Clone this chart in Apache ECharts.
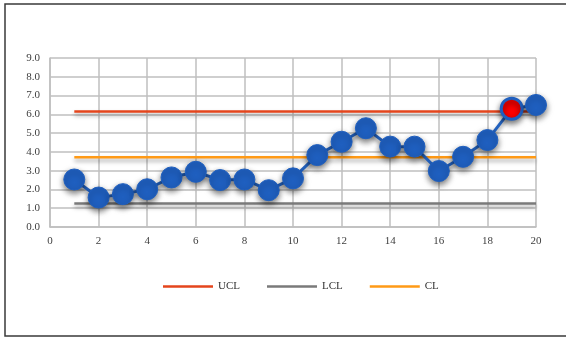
<!DOCTYPE html>
<html>
<head>
<meta charset="utf-8">
<script src="https://cdn.jsdelivr.net/npm/echarts@6/dist/echarts.min.js"></script>
<style>html,body{margin:0;padding:0;background:#fff}#c{width:566px;height:338px}</style>
</head>
<body>
<div id="c"></div>
<script>
var samples = [1,2,3,4,5,6,7,8,9,10,11,12,13,14,15,16,17,18,19,20];
var values = [2.53,1.57,1.75,2.01,2.64,2.94,2.50,2.53,1.96,2.59,3.83,4.54,5.26,4.28,4.28,2.98,3.74,4.63,6.30,6.50];
var outOfControl = [19];
var UCL = 6.15, CL = 3.72, LCL = 1.25;
var xTicks = {min:0, max:20, interval:2};
var yTicks = {min:0, max:9, interval:1};

function flat(v){ return [[samples[0], v],[samples[samples.length-1], v]]; }
var font = 'Liberation Serif';
var chart = echarts.init(document.getElementById('c'), null, {renderer:'canvas'});
var pts = samples.map(function(s,i){
  var item = {value:[s, values[i]]};
  if (outOfControl.indexOf(s) >= 0) item.itemStyle = {color:'#ff0000', borderColor:'#1f5fbf', borderWidth:3};
  return item;
});
function ctrl(name, v, color){
  return {name:name, type:'line', data:flat(v), symbol:'none', silent:true, color:color,
    itemStyle:{color:color},
    lineStyle:{color:color, width:2.5, shadowColor:'rgba(0,0,0,0.35)', shadowBlur:4, shadowOffsetY:3}, z:2};
}
chart.setOption({
  animation:false,
  graphic:[{type:'rect', shape:{x:5, y:4, width:620, height:332}, style:{fill:'none', stroke:'#3a3a3a', lineWidth:1.5}, z:100}],
  grid:{left:50, right:30, top:58, bottom:111},
  legend:{data:['UCL','LCL','CL'], top:276, left:158, icon:'rect', itemWidth:50, itemHeight:2.5, itemGap:27,
    textStyle:{fontFamily:font, fontSize:11, color:'#333'}},
  xAxis:{type:'value', min:xTicks.min, max:xTicks.max, interval:xTicks.interval,
    axisLine:{show:true, lineStyle:{color:'#bfbfbf', width:1.5}}, axisTick:{show:false},
    splitLine:{show:true, lineStyle:{color:'#bfbfbf', width:1.5}},
    axisLabel:{fontFamily:font, fontSize:11, color:'#404040', margin:9}},
  yAxis:{type:'value', min:yTicks.min, max:yTicks.max, interval:yTicks.interval,
    axisLine:{show:true, lineStyle:{color:'#bfbfbf', width:1.5}}, axisTick:{show:false},
    splitLine:{show:true, lineStyle:{color:'#bfbfbf', width:1.5}},
    axisLabel:{fontFamily:font, fontSize:11, color:'#404040', margin:10, formatter:function(v){return v.toFixed(1);}}},
  series:[
    ctrl('UCL', UCL, '#e4451c'),
    ctrl('LCL', LCL, '#7a7a7a'),
    ctrl('CL', CL, '#ff9a16'),
    {name:'Data', type:'line', data:pts, symbol:'circle', symbolSize:21, z:5,
      lineStyle:{color:'#2463c0', width:3, shadowColor:'rgba(0,0,0,0.4)', shadowBlur:4, shadowOffsetY:3},
      itemStyle:{color:'#1f5fbf', borderColor:'#1f5fbf', borderWidth:1, shadowColor:'rgba(0,0,0,0.55)', shadowBlur:6, shadowOffsetY:3}}
  ]
});
</script>
</body>
</html>
